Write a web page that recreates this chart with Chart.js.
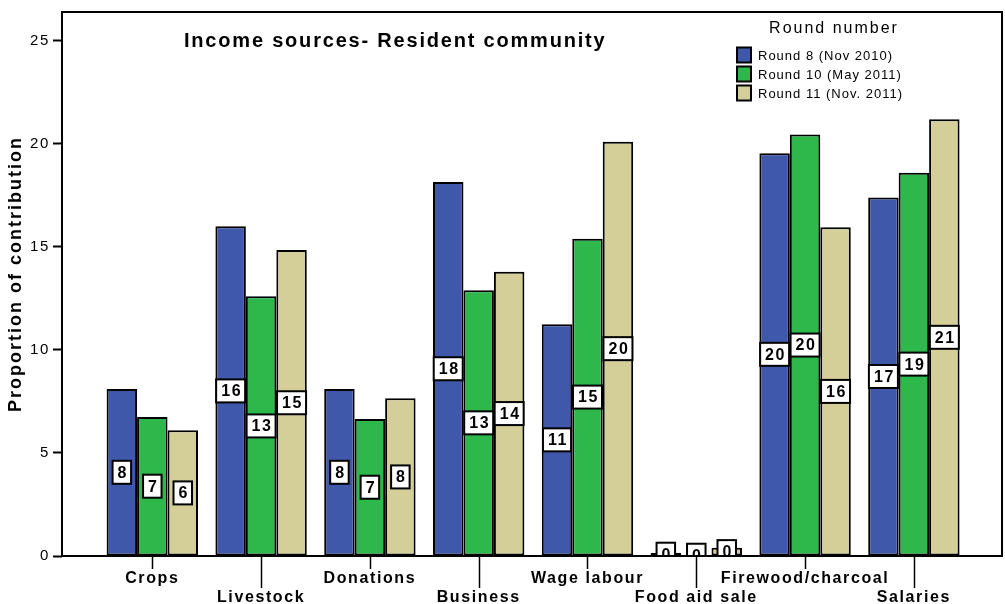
<!DOCTYPE html>
<html>
<head>
<meta charset="utf-8">
<script src="https://cdn.jsdelivr.net/npm/chart.js@4.4.1/dist/chart.umd.min.js"></script>
<style>
  html, body { margin: 0; padding: 0; background: #fff; }
  #wrap { width: 1005px; height: 604px; }
</style>
</head>
<body>
<div id="wrap"><canvas id="c" width="1005" height="604"></canvas></div>
<script>
// Income sources of the resident community, by survey round
const categories = ['Crops', 'Livestock', 'Donations', 'Business', 'Wage labour', 'Food aid sale', 'Firewood/charcoal', 'Salaries'];
const seriesNames = ['Round 8 (Nov 2010)', 'Round 10 (May 2011)', 'Round 11 (Nov. 2011)'];
const round8  = [8.1, 16.0, 8.1, 18.15, 11.25, 0.15, 19.55, 17.4];
const round10 = [6.75, 12.6, 6.65, 12.9, 15.4, 0.05, 20.45, 18.6];
const round11 = [6.1, 14.85, 7.65, 13.8, 20.1, 0.4, 15.95, 21.2];
const yTicks = [0, 5, 10, 15, 20, 25];
const chartTitle = 'Income sources- Resident community';
const legendTitle = 'Round number';
const yTitle = 'Proportion of contribution';

const FONT = "'Liberation Sans', Arial, sans-serif";
const COLORS = ['#3F58A9', '#2EB84B', '#D4CF99'];

const datasets = [round8, round10, round11].map((vals, k) => ({
  label: seriesNames[k],
  data: vals.map((v, i) => ({ x: i, y: v })),
  backgroundColor: COLORS[k],
  borderColor: '#000',
  borderWidth: 2,
  borderSkipped: false,
  categoryPercentage: 0.84,
  barPercentage: 1.0
}));

const decor = {
  id: 'decor',
  beforeLayout(chart) { chart.ctx.letterSpacing = '1.6px'; },
  beforeDraw(chart) { chart.ctx.letterSpacing = '1.6px'; },
  afterDatasetsDraw(chart) {
    // value boxes at mid-height of each bar, clipped to the plot frame
    const ctx = chart.ctx, ca = chart.chartArea;
    ctx.save();
    ctx.beginPath();
    ctx.rect(ca.left, ca.top, ca.right - ca.left, ca.bottom - ca.top);
    ctx.clip();
    ctx.font = `bold 16px ${FONT}`;
    ctx.letterSpacing = '1.6px';
    ctx.textAlign = 'center';
    ctx.textBaseline = 'middle';
    chart.data.datasets.forEach((ds, k) => {
      chart.getDatasetMeta(k).data.forEach((bar, i) => {
        const txt = String(Math.round(ds.data[i].y));
        const w = ctx.measureText(txt).width + 8;
        const h = 23;
        const cx = bar.x, cy = (bar.y + bar.base) / 2;
        ctx.fillStyle = '#fff';
        ctx.fillRect(cx - w / 2, cy - h / 2, w, h);
        ctx.lineWidth = 2;
        ctx.strokeStyle = '#000';
        ctx.strokeRect(cx - w / 2, cy - h / 2, w, h);
        ctx.fillStyle = '#000';
        ctx.fillText(txt, cx + 1, cy + 1);
      });
    });
    ctx.restore();
  },
  afterDraw(chart) {
    const ctx = chart.ctx, ca = chart.chartArea;
    const xs = chart.scales.x;
    ctx.save();
    // plot frame
    ctx.strokeStyle = '#000';
    ctx.lineWidth = 2;
    ctx.strokeRect(ca.left, ca.top, ca.right - ca.left, ca.bottom - ca.top);
    // category tick marks, longer for the second label row
    categories.forEach((c, i) => {
      const x = Math.round(xs.getPixelForValue(i)) + 0.5;
      ctx.beginPath();
      ctx.moveTo(x, ca.bottom);
      ctx.lineTo(x, ca.bottom + (i % 2 ? 32 : 13));
      ctx.lineWidth = 1.5;
      ctx.stroke();
    });
    // vertical axis title
    ctx.fillStyle = '#000';
    ctx.save();
    ctx.translate(16, 274);
    ctx.rotate(-Math.PI / 2);
    ctx.font = `bold 18px ${FONT}`;
    ctx.letterSpacing = '2px';
    ctx.textAlign = 'center';
    ctx.textBaseline = 'middle';
    ctx.fillText(yTitle, 0, 0);
    ctx.restore();
    // chart title inside the frame
    ctx.font = `bold 20px ${FONT}`;
    ctx.letterSpacing = '1.8px';
    ctx.textAlign = 'left';
    ctx.textBaseline = 'middle';
    ctx.fillText(chartTitle, ca.left + 122, ca.top + 29);
    // legend
    const lx = ca.left + 675;
    ctx.font = `16px ${FONT}`;
    ctx.letterSpacing = '2px';
    ctx.textAlign = 'center';
    ctx.fillText(legendTitle, lx + 97, ca.top + 17);
    ctx.font = `13px ${FONT}`;
    ctx.letterSpacing = '1px';
    ctx.textAlign = 'left';
    chart.data.datasets.forEach((ds, k) => {
      const y = ca.top + 43 + k * 19;
      ctx.fillStyle = ds.backgroundColor;
      ctx.fillRect(lx, y - 7.5, 14, 15);
      ctx.lineWidth = 2;
      ctx.strokeStyle = '#000';
      ctx.strokeRect(lx, y - 7.5, 14, 15);
      ctx.fillStyle = '#000';
      ctx.fillText(ds.label, lx + 21, y + 1);
    });
    ctx.restore();
  }
};

new Chart(document.getElementById('c'), {
  type: 'bar',
  data: { datasets },
  plugins: [decor],
  options: {
    responsive: false,
    animation: false,
    events: [],
    layout: { padding: { top: 7, right: 3, left: 0, bottom: 0 } },
    plugins: { legend: { display: false }, tooltip: { enabled: false } },
    scales: {
      x: {
        type: 'linear',
        min: -0.83,
        max: 7.81,
        offset: false,
        afterBuildTicks: (axis) => { axis.ticks = categories.map((_, i) => ({ value: i })); },
        afterFit: (axis) => { axis.height = 48; },
        grid: { display: true, offset: false, drawOnChartArea: false, drawTicks: false },
        border: { display: false },
        ticks: {
          autoSkip: false,
          maxRotation: 0,
          minRotation: 0,
          padding: 13,
          color: '#000',
          font: { family: FONT, size: 16, weight: 'bold', lineHeight: 1.2 },
          callback: (v) => {
            const i = Math.round(v);
            return i % 2 ? ['', categories[i]] : categories[i];
          }
        }
      },
      y: {
        min: 0,
        max: 26.4,
        afterBuildTicks: (axis) => { axis.ticks = yTicks.map(v => ({ value: v })); },
        afterFit: (axis) => { axis.width = 62; },
        border: { display: false },
        grid: { drawOnChartArea: false, drawTicks: true, tickLength: 9, tickWidth: 2, tickColor: '#000' },
        ticks: { padding: 3, color: '#000', font: { family: FONT, size: 15 } }
      }
    }
  }
});
</script>
</body>
</html>
